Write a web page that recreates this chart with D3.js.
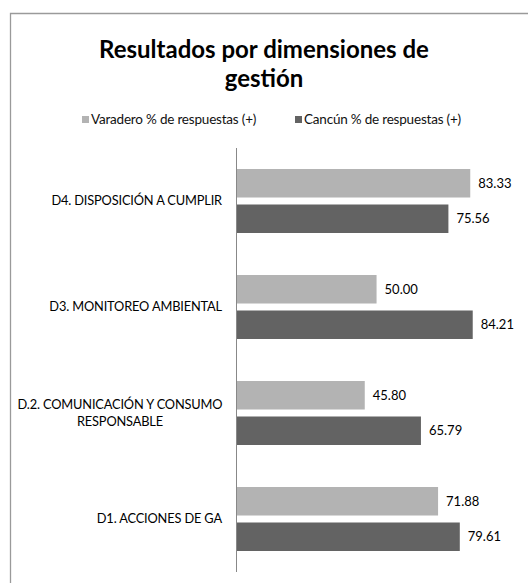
<!DOCTYPE html>
<html>
<head>
<meta charset="utf-8">
<script src="https://cdn.jsdelivr.net/npm/d3@7"></script>
<style>
  body { margin: 0; background: #fff; }
  svg { display: block; font-family: Lato, "Open Sans", sans-serif; }
</style>
</head>
<body>
<svg id="chart"></svg>
<script>
// categories, top to bottom as drawn
let categories = [
  ['D4. DISPOSICIÓN A CUMPLIR'],
  ['D3. MONITOREO AMBIENTAL'],
  ['D.2. COMUNICACIÓN Y CONSUMO', 'RESPONSABLE'],
  ['D1. ACCIONES DE GA']
];
let catKeys = ['D4', 'D3', 'D2', 'D1'];

// series
let seriesNames = ['Varadero % de respuestas (+)', 'Cancún % de respuestas (+)'];
let varadero = [83.33, 50.00, 45.80, 71.88];
let cancun = [75.56, 84.21, 65.79, 79.61];
let seriesColors = ['#b3b3b3', '#636363'];

let titleLines = ['Resultados por dimensiones de', 'gestión'];

// sizes
let widthSVG = 528;
let heightSVG = 583;

let svg = d3.select('svg#chart')
            .attr('width', widthSVG)
            .attr('height', heightSVG);

// chart area border (left and top edges only visible)
svg.append('path')
   .attr('d', `M10.5,${heightSVG} L10.5,13.5 L${widthSVG},13.5`)
   .style('fill', 'none')
   .style('stroke', '#9a9a9a')
   .style('stroke-width', 1.3);

// title
svg.append('g')
   .selectAll('text')
   .data(titleLines)
   .enter()
   .append('text')
   .text(d => d)
   .attr('x', 264)
   .attr('y', (d, i) => 58 + i * 29)
   .style('text-anchor', 'middle')
   .style('font-size', '24px')
   .style('font-weight', 'bold')
   .style('fill', '#000');

// legend
let legendX = [82, 295];
let legend = svg.append('g')
   .selectAll('g')
   .data(seriesNames)
   .enter()
   .append('g')
   .attr('transform', (d, i) => `translate(${legendX[i]}, 116)`);

legend.append('rect')
      .attr('width', 7)
      .attr('height', 7)
      .style('fill', (d, i) => seriesColors[i]);

legend.append('text')
      .text(d => d)
      .attr('x', 9)
      .attr('y', 8)
      .style('font-size', '13.5px')
      .style('letter-spacing', '-0.2px')
      .style('fill', '#111');

// scales
let x = d3.scaleLinear().domain([0, 90]).range([236, 489]);
let y = d3.scaleBand().domain(catKeys).range([148, 572]).padding(0);
let y1 = d3.scaleBand().domain([0, 1]).range([21, 85]).paddingInner(0.197);

// bars
let groups = svg.append('g')
   .selectAll('g.barGroup')
   .data(catKeys)
   .enter()
   .append('g')
   .classed('barGroup', true)
   .attr('transform', d => `translate(0, ${y(d)})`);

let rows = catKeys.map((k, i) => [varadero[i], cancun[i]]);

groups.selectAll('rect')
      .data((d, i) => rows[i])
      .enter()
      .append('rect')
      .attr('x', x(0))
      .attr('y', (d, j) => y1(j))
      .attr('width', d => x(d) - x(0))
      .attr('height', y1.bandwidth())
      .style('fill', (d, j) => seriesColors[j]);

// value labels
groups.selectAll('text.val')
      .data((d, i) => rows[i])
      .enter()
      .append('text')
      .classed('val', true)
      .text(d => d.toFixed(2))
      .attr('x', d => x(d) + 8)
      .attr('y', (d, j) => y1(j) + y1.bandwidth() / 2)
      .attr('dy', '0.35em')
      .style('font-size', '13px')
      .style('fill', '#000');

// category labels
groups.append('text')
      .attr('transform', `translate(0, ${y.bandwidth() / 2})`)
      .each(function(d, i) {
        let lines = categories[i];
        let lineH = 17;
        let t = d3.select(this);
        let cx = lines.length > 1 ? 120 : 222;
        t.style('text-anchor', lines.length > 1 ? 'middle' : 'end');
        lines.forEach((l, k) => {
          t.append('tspan')
           .text(l)
           .attr('x', cx)
           .attr('y', (k - (lines.length - 1) / 2) * lineH)
           .attr('dy', '0.35em');
        });
      })
      .style('font-size', '12.8px')
      .style('letter-spacing', '-0.15px')
      .style('fill', '#000');

// vertical category axis line
svg.append('line')
   .attr('x1', x(0) + 0.5)
   .attr('x2', x(0) + 0.5)
   .attr('y1', y.range()[0])
   .attr('y2', y.range()[1])
   .style('stroke', '#888')
   .style('stroke-width', 1);
</script>
</body>
</html>
